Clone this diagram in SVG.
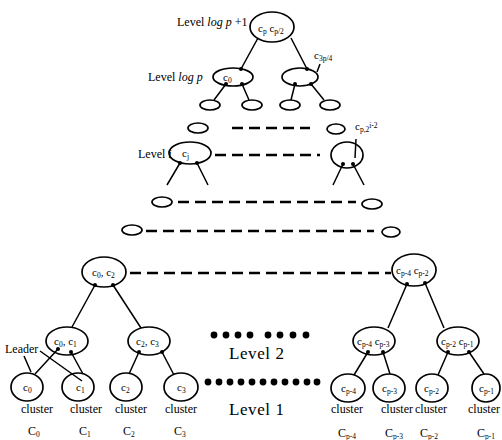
<svg xmlns="http://www.w3.org/2000/svg" width="502" height="440" viewBox="0 0 502 440">
<style>
.n{fill:none;stroke:#000;stroke-width:1.7}
.e{stroke:#000;stroke-width:1.5;fill:none}
.d{stroke:#000;stroke-width:2.4;stroke-dasharray:11 6;fill:none}
.t{font-family:"Liberation Serif",serif;fill:#000}
.lv{font-size:12px}
.big{font-size:17px}
.in{font-size:11px}
.cl{font-size:12px;text-anchor:middle}
.s{font-size:7.5px;fill:#000}
</style>
<rect width="502" height="440" fill="#fff"/>
<defs><circle id="dt" r="2" fill="#000"/><circle id="bd" r="3.4" fill="#000"/></defs>

<g id="connectors">
<path class="e" d="M241,69 L258,38 M307,69 L291,38"/>
<path class="e" d="M226,84 L214,100 M242,84 L249,100 M295,84 L291,100 M311,84 L324,100"/>
<path class="e" d="M180,163 L167,185 M197,163 L208,185 M343,164 L333,185 M353,164 L364,185"/>
<path class="e" d="M95,285 L72,327 M113,285 L141,328 M407,284 L388,328 M425,283 L444,328"/>
<path class="e" d="M58,349 L35,374 M71,352 L83,374 M139,352 L129,374 M162,352 L174,375"/>
<path class="e" d="M368,352 L354,375 M383,352 L390,374 M448,352 L438,375 M469,352 L484,374"/>
<path class="d" d="M232,128 H310 M215,155 H320 M178,202 H356 M146,231 H374 M130,273 H391"/>
<path class="e" d="M40,351 L82,381 M24,356 L31,372 M320,64 L317,72 M356,139 L355,158"/>
<g id="dots">
<use href="#dt" x="241" y="69"/><use href="#dt" x="307" y="69"/>
<use href="#dt" x="226" y="84"/><use href="#dt" x="242" y="84"/><use href="#dt" x="295" y="84"/><use href="#dt" x="311" y="84"/>
<use href="#dt" x="180" y="163"/><use href="#dt" x="197" y="163"/><use href="#dt" x="343" y="164"/><use href="#dt" x="353" y="164"/>
<use href="#dt" x="95" y="285"/><use href="#dt" x="113" y="285"/><use href="#dt" x="407" y="284"/><use href="#dt" x="425" y="283"/>
<use href="#dt" x="58" y="349"/><use href="#dt" x="71" y="352"/><use href="#dt" x="139" y="352"/><use href="#dt" x="162" y="352"/>
<use href="#dt" x="368" y="352"/><use href="#dt" x="383" y="352"/><use href="#dt" x="448" y="352"/><use href="#dt" x="469" y="352"/>
</g>
<g id="bigdots">
<use href="#bd" x="214" y="335"/><use href="#bd" x="226" y="335"/><use href="#bd" x="238" y="335"/><use href="#bd" x="250" y="335"/>
<use href="#bd" x="268" y="335"/><use href="#bd" x="280" y="335"/><use href="#bd" x="293" y="335"/><use href="#bd" x="306" y="335"/>
<use href="#bd" x="208" y="382"/><use href="#bd" x="219" y="382"/><use href="#bd" x="230" y="382"/><use href="#bd" x="241" y="382"/><use href="#bd" x="252" y="382"/><use href="#bd" x="263" y="382"/><use href="#bd" x="274" y="382"/><use href="#bd" x="285" y="382"/><use href="#bd" x="296" y="382"/><use href="#bd" x="307" y="382"/><use href="#bd" x="317" y="382"/>
</g>
</g>

<g id="root"><ellipse class="n" cx="272" cy="27" rx="22" ry="15"/>
<text class="t in" x="258" y="32">c<tspan class="s" dy="2">p</tspan><tspan dy="-2"> c</tspan><tspan class="s" dy="2">p/2</tspan></text></g>
<g id="logp-left"><ellipse class="n" cx="233" cy="77" rx="20" ry="9"/>
<text class="t in" x="223" y="81">c<tspan class="s" dy="2">0</tspan></text></g>
<g id="logp-right"><ellipse class="n" cx="300" cy="77" rx="18" ry="9"/></g>
<g id="r1a"><ellipse class="n" cx="210" cy="105" rx="10" ry="5"/></g>
<g id="r1b"><ellipse class="n" cx="252" cy="105" rx="10" ry="5"/></g>
<g id="r1c"><ellipse class="n" cx="290" cy="105" rx="10" ry="5"/></g>
<g id="r1d"><ellipse class="n" cx="330" cy="105" rx="10" ry="5"/></g>
<g id="r2a"><ellipse class="n" cx="198" cy="128" rx="10" ry="5"/></g>
<g id="r2b"><ellipse class="n" cx="336" cy="129" rx="9" ry="5"/></g>
<g id="li-left"><ellipse class="n" cx="190" cy="153" rx="21" ry="11"/>
<text class="t in" x="182" y="157">c<tspan class="s" dy="2">j</tspan></text></g>
<g id="li-right"><ellipse class="n" cx="347" cy="155" rx="16" ry="13"/></g>
<g id="r3a"><ellipse class="n" cx="162" cy="202" rx="10" ry="5"/></g>
<g id="r3b"><ellipse class="n" cx="372" cy="204" rx="10" ry="5"/></g>
<g id="r4a"><ellipse class="n" cx="132" cy="230" rx="10" ry="5"/></g>
<g id="r4b"><ellipse class="n" cx="391" cy="232" rx="9" ry="5"/></g>
<g id="l2-left"><ellipse class="n" cx="104" cy="272" rx="22" ry="15"/>
<text class="t in" x="92" y="276">c<tspan class="s" dy="2">0</tspan><tspan dy="-2">, c</tspan><tspan class="s" dy="2">2</tspan></text></g>
<g id="l2-right"><ellipse class="n" cx="414" cy="270" rx="22" ry="16"/>
<text class="t in" x="396" y="274">c<tspan class="s" dy="2">p-4</tspan><tspan dy="-2"> c</tspan><tspan class="s" dy="2">p-2</tspan></text></g>
<g id="l1-a"><ellipse class="n" cx="67" cy="341" rx="21" ry="14"/>
<text class="t in" x="54" y="345">c<tspan class="s" dy="2">0</tspan><tspan dy="-2">, c</tspan><tspan class="s" dy="2">1</tspan></text></g>
<g id="l1-b"><ellipse class="n" cx="149" cy="341" rx="21" ry="14"/>
<text class="t in" x="136" y="345">c<tspan class="s" dy="2">2</tspan><tspan dy="-2">, c</tspan><tspan class="s" dy="2">3</tspan></text></g>
<g id="l1-c"><ellipse class="n" cx="374" cy="341" rx="21" ry="14"/>
<text class="t in" x="357" y="345">c<tspan class="s" dy="2">p-4</tspan><tspan dy="-2"> c</tspan><tspan class="s" dy="2">p-3</tspan></text></g>
<g id="l1-d"><ellipse class="n" cx="458" cy="341" rx="21" ry="14"/>
<text class="t in" x="441" y="345">c<tspan class="s" dy="2">p-2</tspan><tspan dy="-2"> c</tspan><tspan class="s" dy="2">p-1</tspan></text></g>
<g id="leaf0"><ellipse class="n" cx="27" cy="387" rx="16" ry="14"/><text class="t in" x="23" y="391">c<tspan class="s" dy="2">0</tspan></text></g>
<g id="leaf1"><ellipse class="n" cx="78" cy="387" rx="16" ry="14"/><text class="t in" x="76" y="391">c<tspan class="s" dy="2">1</tspan></text></g>
<g id="leaf2"><ellipse class="n" cx="126" cy="387" rx="16" ry="14"/><text class="t in" x="121" y="391">c<tspan class="s" dy="2">2</tspan></text></g>
<g id="leaf3"><ellipse class="n" cx="181" cy="387" rx="17" ry="14"/><text class="t in" x="177" y="391">c<tspan class="s" dy="2">3</tspan></text></g>
<g id="leaf4"><ellipse class="n" cx="348" cy="388" rx="17" ry="14"/><text class="t in" x="341" y="392">c<tspan class="s" dy="2">p-4</tspan></text></g>
<g id="leaf5"><ellipse class="n" cx="389" cy="388" rx="16" ry="14"/><text class="t in" x="382" y="392">c<tspan class="s" dy="2">p-3</tspan></text></g>
<g id="leaf6"><ellipse class="n" cx="432" cy="388" rx="16" ry="14"/><text class="t in" x="424" y="392">c<tspan class="s" dy="2">p-2</tspan></text></g>
<g id="leaf7"><ellipse class="n" cx="486" cy="388" rx="14" ry="14"/><text class="t in" x="479" y="392">c<tspan class="s" dy="2">p-1</tspan></text></g>

<g id="labels">
<text class="t lv" x="177" y="26">Level <tspan font-style="italic">log p</tspan> +1</text>
<text class="t lv" x="148" y="81">Level <tspan font-style="italic">log p</tspan></text>
<text class="t lv" x="138" y="158">Level <tspan font-style="italic">i</tspan></text>
<text class="t big" x="229" y="359" textLength="55">Level 2</text>
<text class="t big" x="229" y="415" textLength="55">Level 1</text>
<text class="t lv" x="5" y="353">Leader</text>
<text class="t in" x="314" y="59">c<tspan class="s" dy="2">3p/4</tspan></text>
<text class="t in" x="355" y="130">c<tspan class="s" dy="2">p,2</tspan><tspan class="s" dy="-4">i-2</tspan></text>
<text class="t cl" x="37" y="413">cluster</text>
<text class="t cl" x="86" y="413">cluster</text>
<text class="t cl" x="131" y="413">cluster</text>
<text class="t cl" x="181" y="413">cluster</text>
<text class="t cl" x="347" y="413">cluster</text>
<text class="t cl" x="397" y="413">cluster</text>
<text class="t cl" x="431" y="413">cluster</text>
<text class="t cl" x="484" y="413">cluster</text>
<text class="t lv" x="28" y="435">C<tspan class="s" dy="2">0</tspan></text>
<text class="t lv" x="79" y="435">C<tspan class="s" dy="2">1</tspan></text>
<text class="t lv" x="123" y="435">C<tspan class="s" dy="2">2</tspan></text>
<text class="t lv" x="174" y="435">C<tspan class="s" dy="2">3</tspan></text>
<text class="t lv" x="338" y="437">C<tspan class="s" dy="2">p-4</tspan></text>
<text class="t lv" x="385" y="437">C<tspan class="s" dy="2">p-3</tspan></text>
<text class="t lv" x="420" y="437">C<tspan class="s" dy="2">p-2</tspan></text>
<text class="t lv" x="477" y="437">C<tspan class="s" dy="2">p-1</tspan></text>
</g>
</svg>
